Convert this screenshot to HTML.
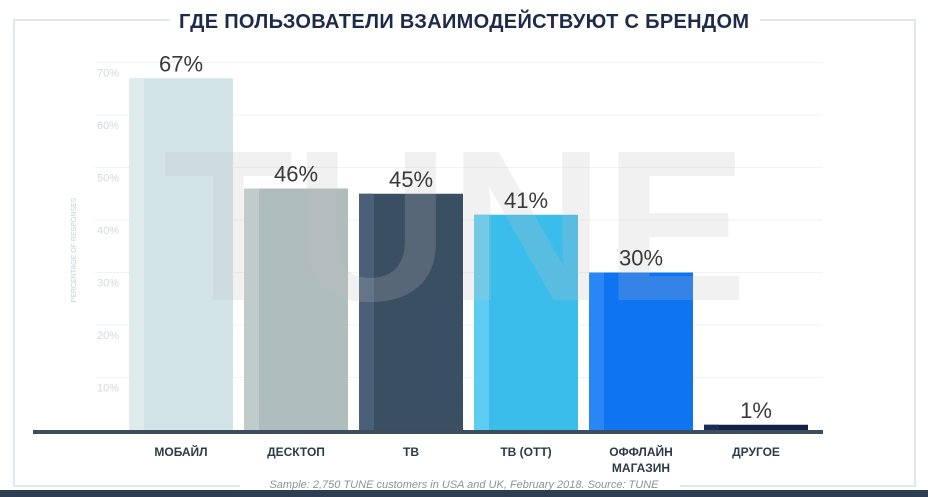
<!DOCTYPE html>
<html><head><meta charset="utf-8"><style>
html,body{margin:0;padding:0;background:#fff;}
svg{display:block;font-family:"Liberation Sans",sans-serif;}
</style></head><body>
<svg id="chart" width="928" height="497" viewBox="0 0 928 497">
<rect x="14" y="20" width="901" height="466" fill="none" stroke="#dde9ec" stroke-width="2"/>
<rect x="170" y="6" width="590" height="28" fill="#fff"/>
<text x="464" y="28" text-anchor="middle" font-size="20" font-weight="bold" fill="#1e2a4a" textLength="570">ГДЕ ПОЛЬЗОВАТЕЛИ ВЗАИМОДЕЙСТВУЮТ С БРЕНДОМ</text>
<g id="grid"></g>
<text transform="translate(76,250) rotate(-90)" text-anchor="middle" font-size="7" fill="#c5ced2">PERCENTAGE OF RESPONSES</text>
<g id="bars"></g>
<text x="455" y="300" text-anchor="middle" font-size="215" font-weight="bold" fill="rgba(190,190,190,0.22)" textLength="585" lengthAdjust="spacingAndGlyphs">TUNE</text>
<rect x="33" y="430" width="790" height="4" fill="#3d4d5e"/>
<g id="labels"></g>
<rect x="240" y="478" width="440" height="12" fill="#fff"/>
<text x="464" y="488" text-anchor="middle" font-size="11" font-style="italic" fill="#8a9299">Sample: 2,750 TUNE customers in USA and UK, February 2018. Source: TUNE</text>
<rect x="0" y="490" width="928" height="7" fill="#2d3e50"/>
</svg>
<script>
const categories=[["МОБАЙЛ"],["ДЕСКТОП"],["ТВ"],["ТВ (ОТТ)"],["ОФФЛАЙН","МАГАЗИН"],["ДРУГОЕ"]];
const values=[67,46,45,41,30,1];
const valueLabels=["67%","46%","45%","41%","30%","1%"];
const yTicks=[10,20,30,40,50,60,70];
const colors=["#d3e4e8","#b0bdbd","#3b4f63","#3bbdeb","#0e74f2","#14204a"];
const strips=["#deeaec","#c0cbcb","#4a6078","#5dcdf3","#2a86f5","#1b2a58"];
const NS="http://www.w3.org/2000/svg";
const base=430,k=5.25,x0=129,step=115,bw=104;
const y=v=>base-v*k;
const xb=i=>x0+i*step;
function mk(t,a,p){const e=document.createElementNS(NS,t);for(const n in a)e.setAttribute(n,a[n]);p.appendChild(e);return e;}
const g=document.getElementById('grid'),b=document.getElementById('bars'),l=document.getElementById('labels');
yTicks.forEach(v=>{
 const ln=mk('line',{x1:95,x2:823,y1:y(v),y2:y(v),stroke:'#eef3f4','stroke-width':1},g);
 
 
 const t=mk('text',{x:97,y:y(v)+14,'text-anchor':'start','font-size':11,fill:'#d3d9dc'},g);
 t.textContent=v+'%';
 
 
});
values.forEach((v,i)=>{
 const r=mk('rect',{x:xb(i),y:y(v),width:bw,height:base-y(v),fill:colors[i]},b);
 
 
 mk('rect',{x:xb(i),y:y(v),width:15,height:base-y(v),fill:strips[i]},b);
 const t=mk('text',{x:xb(i)+bw/2,y:y(v)-7,'text-anchor':'middle','font-size':22,fill:'#3a3a3a'},l);
 t.textContent=valueLabels[i];
 
 
 categories[i].forEach((s,j)=>{
  const c=mk('text',{x:xb(i)+bw/2,y:456+j*16,'text-anchor':'middle','font-size':12,'font-weight':'bold',fill:'#2d3a4a'},l);
  c.textContent=s;
  
  
 });
});
</script>
</body></html>
